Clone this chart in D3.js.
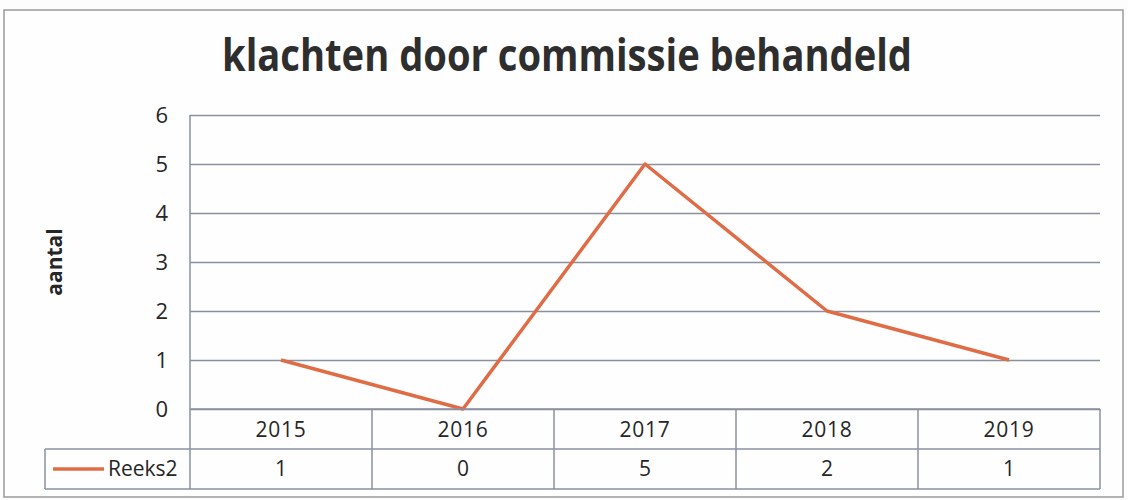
<!DOCTYPE html>
<html>
<head>
<meta charset="utf-8">
<script src="https://cdn.jsdelivr.net/npm/d3@7"></script>
<style>
  html, body { margin: 0; padding: 0; background: #fdfdfd; }
  svg { display: block; }
</style>
</head>
<body>
<svg id="chart" width="1128" height="500"></svg>
<script>
const title = "klachten door commissie behandeld";
const yTitle = "aantal";
const seriesName = "Reeks2";
const years = ["2015", "2016", "2017", "2018", "2019"];
const values = [1, 0, 5, 2, 1];
const yTicks = [0, 1, 2, 3, 4, 5, 6];

const svg = d3.select("#chart");
const plot = { left: 190, right: 1100, top: 115, bottom: 409 };
const gridColor = "#8b90a0";
const lineColor = "#e06c45";
const textColor = "#262626";
const font = "'Open Sans', 'Noto Sans', sans-serif";

// outer frame
svg.append("rect").attr("x", 4).attr("y", 10).attr("width", 1119).attr("height", 487)
  .attr("fill", "#fefefe").attr("stroke", "#9a9a9a").attr("stroke-width", 1.5);

const x = d3.scaleBand().domain(years).range([plot.left, plot.right]).padding(0);
const y = d3.scaleLinear().domain([0, 6]).range([plot.bottom, plot.top]);

// title
svg.append("text").attr("x", 567).attr("y", 71).attr("text-anchor", "middle")
  .attr("font-family", font).attr("font-weight", "bold").attr("font-size", 44)
  .attr("textLength", 690).attr("lengthAdjust", "spacingAndGlyphs")
  .attr("fill", "#2e2e2e").text(title);

// gridlines
const yAxis = d3.axisLeft(y).tickValues(yTicks).tickSize(-(plot.right - plot.left)).tickPadding(22).tickFormat(d3.format("d"));
const gy = svg.append("g").attr("transform", `translate(${plot.left},0)`).call(yAxis);
gy.select(".domain").remove();
gy.selectAll(".tick line").attr("stroke", gridColor).attr("stroke-width", 1.5);
gy.selectAll(".tick text").attr("font-family", font).attr("font-size", 22).attr("fill", textColor).attr("dy", "0.35em");

// vertical axis line
svg.append("line").attr("x1", plot.left).attr("x2", plot.left).attr("y1", plot.top).attr("y2", plot.bottom)
  .attr("stroke", gridColor).attr("stroke-width", 1.5);

// y title
svg.append("text").attr("transform", `translate(62,${(plot.top + plot.bottom) / 2}) rotate(-90)`)
  .attr("text-anchor", "middle").attr("font-family", font).attr("font-weight", "bold")
  .attr("font-size", 21).attr("fill", textColor).text(yTitle);

// line
const line = d3.line().x((d, i) => x(years[i]) + x.bandwidth() / 2).y(d => y(d));
svg.append("path").datum(values).attr("d", line).attr("fill", "none")
  .attr("stroke", lineColor).attr("stroke-width", 3.5).attr("stroke-linejoin", "round");

// data table
const r1Top = plot.bottom, r2Top = 449, r2Bot = 489;
const legendLeft = 45;
const tbl = svg.append("g").attr("stroke", gridColor).attr("stroke-width", 1.5).attr("fill", "none");
tbl.append("line").attr("x1", plot.left).attr("x2", plot.right).attr("y1", r1Top).attr("y2", r1Top);
tbl.append("line").attr("x1", legendLeft).attr("x2", plot.right).attr("y1", r2Top).attr("y2", r2Top);
tbl.append("line").attr("x1", legendLeft).attr("x2", plot.right).attr("y1", r2Bot).attr("y2", r2Bot);
const seps = years.map(d => x(d)).concat([plot.right]);
tbl.selectAll("line.v").data(seps).enter().append("line")
  .attr("x1", d => d).attr("x2", d => d).attr("y1", r1Top).attr("y2", r2Bot);
tbl.append("line").attr("x1", legendLeft).attr("x2", legendLeft).attr("y1", r2Top).attr("y2", r2Bot);

svg.selectAll("text.year").data(years).enter().append("text")
  .attr("x", d => x(d) + x.bandwidth() / 2).attr("y", (r1Top + r2Top) / 2 + 1).attr("dy", "0.35em")
  .attr("text-anchor", "middle").attr("font-family", font).attr("font-size", 21)
  .attr("letter-spacing", 0.8).attr("fill", textColor)
  .text(d => d);
svg.selectAll("text.val").data(values).enter().append("text")
  .attr("x", (d, i) => x(years[i]) + x.bandwidth() / 2).attr("y", (r2Top + r2Bot) / 2).attr("dy", "0.35em")
  .attr("text-anchor", "middle").attr("font-family", font).attr("font-size", 21).attr("fill", textColor)
  .text(d => d);

// legend key
const ly = (r2Top + r2Bot) / 2;
svg.append("line").attr("x1", 53).attr("x2", 104).attr("y1", ly).attr("y2", ly)
  .attr("stroke", lineColor).attr("stroke-width", 3.5);
svg.append("text").attr("x", 108).attr("y", ly).attr("dy", "0.35em")
  .attr("font-family", font).attr("font-size", 21).attr("fill", textColor).text(seriesName);
</script>
</body>
</html>
